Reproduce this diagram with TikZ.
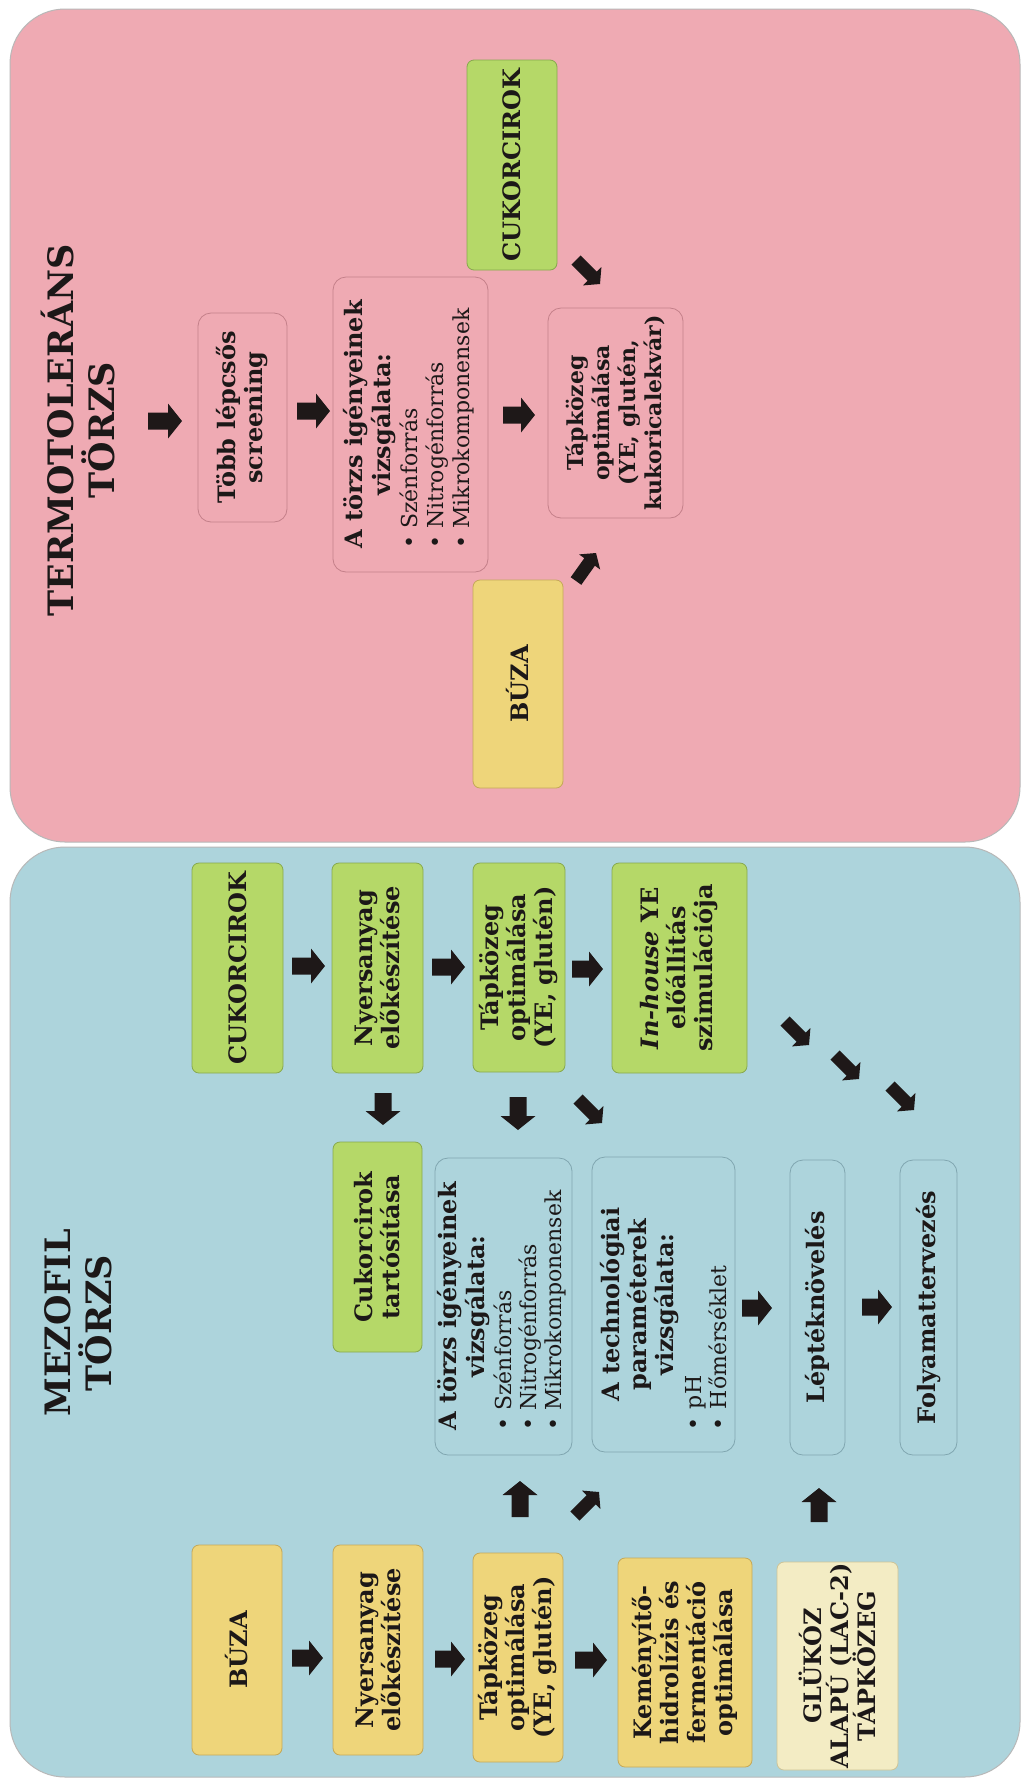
\documentclass[tikz,border=0pt]{standalone}
\usepackage{fontspec}
\setmainfont{DejaVu Serif}
\usetikzlibrary{calc}
\definecolor{pinkbg}{RGB}{239,170,179}
\definecolor{bluebg}{RGB}{173,212,220}
\definecolor{grn}{RGB}{181,216,104}
\definecolor{grnb}{RGB}{135,168,78}
\definecolor{ylw}{RGB}{238,213,122}
\definecolor{ylwb}{RGB}{196,168,88}
\definecolor{pale}{RGB}{243,236,196}
\definecolor{paleb}{RGB}{205,195,150}
\definecolor{pinkline}{RGB}{196,128,138}
\definecolor{blueline}{RGB}{128,166,176}
\definecolor{arr}{RGB}{30,24,24}
\definecolor{txt}{RGB}{28,24,24}
\newcommand{\hdr}[1]{\multicolumn{1}{@{}c@{}}{#1}}
\newcommand{\itm}[1]{{\mdseries\fontsize{22}{25}\selectfont\textbullet\ #1}}
% block arrow: #1 start, #2 end, #3 half shaft, #4 half head, #5 head length
\newcommand{\barrow}[5]{%
  \path ($(#2)!#5!(#1)$) coordinate (hb);
  \fill[arr] ($(#1)!#3!90:(#2)$) -- ($(hb)!#3!-90:(#1)$) -- ($(hb)!#4!-90:(#1)$) -- (#2)
    -- ($(hb)!#4!90:(#1)$) -- ($(hb)!#3!90:(#1)$) -- ($(#1)!#3!-90:(#2)$) -- cycle;}
\newcommand{\bigarrow}[2]{\barrow{#1}{#2}{8.5pt}{17.5pt}{14pt}}
\newcommand{\diagarrow}[2]{\barrow{#1}{#2}{6.5pt}{13pt}{11pt}}
\begin{document}
\begin{tikzpicture}[x=1pt,y=-1pt,
  bx/.style={rotate=90, draw, rounded corners=7pt, inner sep=0pt, outer sep=0pt,
    align=center, text=txt, font=\fontsize{24}{27}\selectfont\bfseries, line width=0.8pt},
  sz/.style 2 args={minimum width=#2, minimum height=#1},
  gb/.style={bx, fill=grn, draw=grnb},
  yb/.style={bx, fill=ylw, draw=ylwb},
  pb/.style={bx, fill=pale, draw=paleb},
  obp/.style={bx, rounded corners=13pt, draw=pinkline},
  obb/.style={bx, rounded corners=13pt, draw=blueline},
  tit/.style={rotate=90, align=center, text=txt, font=\fontsize{35}{41}\selectfont\bfseries}
]
\useasboundingbox (0,0) rectangle (1027,1778);
\fill[white] (0,0) rectangle (1027,1778);
\draw[fill=pinkbg, draw=black!28, line width=1pt, rounded corners=55pt] (10,9) rectangle (1020,842);
\draw[fill=bluebg, draw=black!28, line width=1pt, rounded corners=55pt] (10,847) rectangle (1020,1777);

% ---------- TERMOTOLERÁNS panel ----------
\node[tit] (tTitle) at (78,430) {TERMOTOLERÁNS\\TÖRZS};
\node[obp, sz={89}{209}] (tobb) at (242.5,417.5) {Több lépcsős\\screening};
\node[obp, sz={155}{295}] (atorzsP) at (410.5,424.5) {\begin{tabular}{@{}l@{}}\hdr{A törzs igényeinek}\\\hdr{vizsgálata:}\\\itm{Szénforrás}\\[-1pt]\itm{Nitrogénforrás}\\[-1pt]\itm{Mikrokomponensek}\end{tabular}};
\node[obp, sz={135}{210}, font=\fontsize{22}{26}\selectfont\bfseries] (tapP) at (615.5,413) {Tápközeg\\optimálása\\(YE, glutén,\\kukoricalekvár)};
\node[gb, sz={90}{210}] (cukP) at (512,165) {CUKORCIROK};
\node[yb, sz={90}{208}] (buzaP) at (518,684) {BÚZA};

\coordinate (p1s) at (148,421); \coordinate (p1e) at (182,421);
\coordinate (p2s) at (297,411); \coordinate (p2e) at (330,411);
\coordinate (p3s) at (503,415); \coordinate (p3e) at (535,415);
\coordinate (p4s) at (576,260); \coordinate (p4e) at (600,284);
\coordinate (p5s) at (576,581); \coordinate (p5e) at (596,553);
\bigarrow{p1s}{p1e}
\bigarrow{p2s}{p2e}
\bigarrow{p3s}{p3e}
\diagarrow{p4s}{p4e}
\diagarrow{p5s}{p5e}

% ---------- MEZOFIL panel ----------
\node[tit] (mTitle) at (78,1323) {MEZOFIL\\TÖRZS};
\node[gb, sz={91}{210}] (cukB) at (237.5,968) {CUKORCIROK};
\node[gb, sz={91}{210}] (nyB) at (377.5,968) {Nyersanyag\\előkészítése};
\node[gb, sz={92}{209}] (tapB) at (519,967.5) {Tápközeg\\optimálása\\(YE, glutén)};
\node[gb, sz={135}{210}] (inh) at (679.5,968) {\textit{In-house} YE\\előállítás\\szimulációja};
\node[gb, sz={89}{210}] (cukT) at (377.5,1247) {Cukorcirok\\tartósítása};
\node[obb, sz={137}{297}] (atorzsB) at (503.5,1306.5) {\begin{tabular}{@{}l@{}}\hdr{A törzs igényeinek}\\\hdr{vizsgálata:}\\\itm{Szénforrás}\\[-2pt]\itm{Nitrogénforrás}\\[-2pt]\itm{Mikrokomponensek}\end{tabular}};
\node[obb, sz={143}{295}, text width=251pt, align=left] (tech) at (663.5,1304.5) {{\centering A technológiai\\paraméterek\\vizsgálata:\par}\vspace{3pt}{\mdseries\fontsize{22}{25}\selectfont\textbullet\ pH\\\textbullet\ Hőmérséklet\par}};
\node[obb, sz={55}{295}] (lept) at (817.5,1307.5) {Léptéknövelés};
\node[obb, sz={57}{295}] (folyam) at (928.5,1307.5) {Folyamattervezés};
\node[yb, sz={90}{210}] (buzaB) at (237,1650) {BÚZA};
\node[yb, sz={90}{210}] (nyY) at (378,1650) {Nyersanyag\\előkészítése};
\node[yb, sz={90}{209}] (tapY) at (518,1657.5) {Tápközeg\\optimálása\\(YE, glutén)};
\node[yb, sz={134}{209}] (kem) at (685,1662.5) {Keményítő-\\hidrolízis és\\fermentáció\\optimálása};
\node[pb, sz={121}{208}] (glu) at (837.5,1666) {GLÜKÓZ\\ALAPÚ (LAC-2)\\TÁPKÖZEG};

\coordinate (b1s) at (292,966); \coordinate (b1e) at (325,966);
\coordinate (b2s) at (432,967); \coordinate (b2e) at (465,967);
\coordinate (b3s) at (572,969); \coordinate (b3e) at (603,969);
\coordinate (b4s) at (383,1093); \coordinate (b4e) at (383,1125);
\coordinate (b5s) at (518,1097); \coordinate (b5e) at (518,1130);
\coordinate (b6s) at (578,1099); \coordinate (b6e) at (602,1123);
\coordinate (b7s) at (785,1021); \coordinate (b7e) at (809,1045);
\coordinate (b8s) at (835,1055); \coordinate (b8e) at (859,1079);
\coordinate (b9s) at (890,1086); \coordinate (b9e) at (914,1110);
\coordinate (c1s) at (742,1308); \coordinate (c1e) at (772,1308);
\coordinate (c2s) at (862,1307); \coordinate (c2e) at (892,1307);
\coordinate (c3s) at (520,1517); \coordinate (c3e) at (520,1481);
\coordinate (c4s) at (575,1516); \coordinate (c4e) at (599,1492);
\coordinate (c5s) at (819,1522); \coordinate (c5e) at (819,1488);
\coordinate (d1s) at (292,1658); \coordinate (d1e) at (323,1658);
\coordinate (d2s) at (435,1659); \coordinate (d2e) at (465,1659);
\coordinate (d3s) at (575,1660); \coordinate (d3e) at (607,1660);
\bigarrow{b1s}{b1e}
\bigarrow{b2s}{b2e}
\bigarrow{b3s}{b3e}
\bigarrow{b4s}{b4e}
\bigarrow{b5s}{b5e}
\diagarrow{b6s}{b6e}
\diagarrow{b7s}{b7e}
\diagarrow{b8s}{b8e}
\diagarrow{b9s}{b9e}
\bigarrow{c1s}{c1e}
\bigarrow{c2s}{c2e}
\bigarrow{c3s}{c3e}
\diagarrow{c4s}{c4e}
\bigarrow{c5s}{c5e}
\bigarrow{d1s}{d1e}
\bigarrow{d2s}{d2e}
\bigarrow{d3s}{d3e}
\end{tikzpicture}
\end{document}
